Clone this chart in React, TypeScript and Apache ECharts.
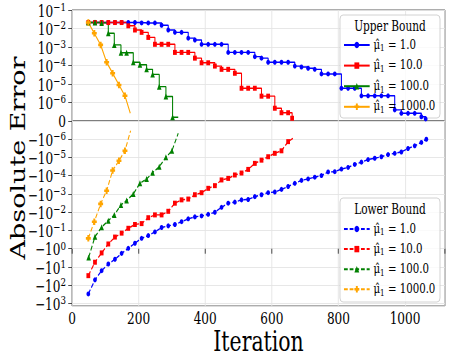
import React, { useEffect, useRef } from "react";
import * as echarts from "echarts";

// ---------------- data ----------------
const muValues = ["1.0", "10.0", "100.0", "1000.0"];

// Upper bound (positive absolute error), [iteration, value]
const upperMu1: [number, number][] = [
  [49, 2.1e-2], [69, 2.1e-2], [89, 2.1e-2], [109, 2.1e-2], [129, 2.1e-2], [149, 2.1e-2],
  [169, 2.1e-2], [189, 2.1e-2], [209, 2.0e-2], [229, 2.0e-2], [249, 2.0e-2], [269, 1.5e-2],
  [289, 8.3e-3], [309, 6.2e-3], [329, 6.2e-3], [349, 3.0e-3], [369, 2.4e-3], [389, 1.4e-3],
  [409, 1.4e-3], [429, 1.4e-3], [449, 1.4e-3], [469, 5.1e-4], [489, 5.1e-4], [509, 5.1e-4],
  [529, 5.1e-4], [549, 3.0e-4], [569, 2.5e-4], [589, 1.5e-4], [609, 1.5e-4], [629, 1.5e-4],
  [649, 1.5e-4], [669, 9.3e-5], [689, 8.3e-5], [709, 7.1e-5], [729, 6.2e-5], [749, 3.5e-5],
  [769, 3.5e-5], [789, 3.5e-5], [809, 5.9e-6], [829, 5.9e-6], [849, 5.9e-6], [869, 2.3e-6],
  [889, 2.3e-6], [909, 2.3e-6], [929, 2.3e-6], [949, 2.3e-6], [969, 4.0e-7], [989, 2.6e-7],
  [1009, 2.6e-7], [1029, 2.6e-7], [1049, 1.7e-7], [1062, 1.3e-7],
];
const upperMu10: [number, number][] = [
  [49, 2.1e-2], [69, 2.1e-2], [89, 2.1e-2], [109, 2.1e-2], [129, 2.1e-2], [149, 2.1e-2],
  [169, 1.4e-2], [189, 8.3e-3], [209, 6.2e-3], [229, 3.3e-3], [249, 1.4e-3], [269, 1.4e-3],
  [289, 1.4e-3], [309, 5.1e-4], [329, 5.1e-4], [349, 5.1e-4], [369, 2.5e-4], [389, 1.4e-4],
  [409, 1.4e-4], [429, 9.3e-5], [449, 6.2e-5], [469, 6.2e-5], [489, 3.8e-5], [509, 5.9e-6],
  [529, 5.9e-6], [549, 5.9e-6], [569, 2.2e-6], [589, 2.2e-6], [609, 4.9e-7], [629, 2.8e-7],
  [649, 2.8e-7], [661, 1.4e-7],
];
const upperMu100: [number, number][] = [
  [49, 2.1e-2], [69, 2.1e-2], [89, 2.0e-2], [109, 5.5e-3], [127, 1.3e-3], [147, 4.9e-4],
  [164, 4.9e-4], [184, 1.5e-4], [204, 1.1e-4], [224, 6.2e-5], [242, 3.3e-5], [262, 7.2e-6],
  [282, 2.1e-6], [302, 1.6e-7],
];
const upperMu100End: [number, number] = [319, 1.6e-7];
const upperMu1000: [number, number][] = [
  [49, 2.1e-2], [67, 5.5e-3], [86, 1.3e-3], [104, 1.5e-4], [122, 3.8e-5], [141, 8.9e-6],
  [159, 2.3e-6],
];
const upperMu1000End: [number, number] = [175, 2.6e-7];

// Lower bound (negative absolute error), [iteration, value]
const lowerMu1: [number, number][] = [
  [49, -300], [69, -51], [89, -16], [109, -6.9], [129, -3.8], [149, -1.8], [169, -0.95],
  [189, -0.5], [209, -0.27], [229, -0.19], [249, -0.12], [269, -6.9e-2], [289, -5.6e-2],
  [309, -4.7e-2], [329, -3.3e-2], [349, -2.3e-2], [369, -1.8e-2], [389, -1.6e-2],
  [409, -1.3e-2], [429, -1.0e-2], [449, -5.4e-3], [469, -3.2e-3], [489, -2.8e-3],
  [509, -2.1e-3], [529, -2.0e-3], [549, -1.4e-3], [569, -1.1e-3], [589, -8.5e-4],
  [609, -7.8e-4], [629, -5.6e-4], [649, -3.9e-4], [669, -2.6e-4], [689, -1.8e-4],
  [709, -1.5e-4], [729, -1.2e-4], [749, -9.8e-5], [769, -6.2e-5], [789, -6.0e-5],
  [809, -4.3e-5], [829, -3.5e-5], [849, -2.4e-5], [869, -1.8e-5], [889, -1.3e-5],
  [909, -1.1e-5], [929, -9.1e-6], [949, -6.9e-6], [969, -5.9e-6], [989, -5.0e-6],
  [1009, -3.2e-6], [1029, -2.3e-6], [1049, -1.5e-6], [1064, -1.0e-6],
];
const lowerMu1End: [number, number] = [1069, -6.6e-7];
const lowerMu10: [number, number][] = [
  [49, -30], [69, -5.5], [89, -1.7], [109, -0.55], [129, -0.23], [149, -0.14], [169, -7.6e-2],
  [189, -4.7e-2], [209, -4.2e-2], [229, -2.0e-2], [249, -1.4e-2], [269, -1.4e-2],
  [289, -8.9e-3], [309, -3.2e-3], [329, -2.1e-3], [349, -1.9e-3], [369, -1.1e-3],
  [389, -8.5e-4], [409, -4.9e-4], [429, -3.5e-4], [449, -1.7e-4], [469, -1.4e-4],
  [489, -9.1e-5], [509, -7.1e-5], [529, -4.5e-5], [549, -2.1e-5], [569, -1.4e-5],
  [589, -9.1e-6], [609, -5.9e-6], [629, -4.3e-6], [649, -1.35e-6],
];
const lowerMu10End: [number, number] = [668, -7.8e-7];
const lowerMu100: [number, number][] = [
  [50, -3.0], [69, -0.22], [89, -6.6e-2], [109, -2.9e-2], [127, -1.4e-2], [147, -4.0e-3],
  [164, -2.3e-3], [184, -1.0e-3], [204, -2.6e-4], [224, -1.5e-4], [242, -6.8e-5],
  [262, -3.2e-5], [282, -9.8e-6], [300, -4.3e-6],
];
const lowerMu100End: [number, number] = [319, -4.7e-7];
const lowerMu1000: [number, number][] = [
  [49, -0.27], [67, -3.3e-2], [86, -3.5e-3], [104, -6.6e-4], [122, -5.2e-5], [141, -1.5e-5],
  [159, -4.3e-6],
];
const lowerMu1000End: [number, number] = [176, -3.4e-7];

const xTicks = [0, 200, 400, 600, 800, 1000];
const upperTickExponents = [-1, -2, -3, -4, -5, -6];
const lowerTickExponents = [-6, -5, -4, -3, -2, -1, 0, 1, 2, 3];
const zeroTickLabel = "0";

// ---------------- layout / style ----------------
const W = 449;
const H = 359;
const SX = 0.756; // the reference is horizontally compressed
const CW = Math.round(W / SX);
const FONT = "DejaVu Serif";
const COLORS = ["#0000ff", "#ff0000", "#008000", "#ffa500"];
const PLUS = "path://M3,0H7V3H10V7H7V10H3V7H0V3H3Z";
const SYMBOLS = ["circle", "rect", "triangle", PLUS];
const SYMBOL_SIZES = [5, 5, 6, 6.5];
const GRID_LEFT = 72 / SX;
const GRID_WIDTH = (445 - 72) / SX;
const LABEL_MARGIN = 8;
const MINUS = "\u2212";

function logData(pts: [number, number][], end?: [number, number]) {
  const out: any[] = pts.map(([x, v]) => [x, Math.log10(Math.abs(v))]);
  if (end) out.push({ value: [end[0], Math.log10(Math.abs(end[1]))], symbol: "none" });
  return out;
}

const upperSets: [[number, number][], [number, number] | undefined][] = [
  [upperMu1, undefined],
  [upperMu10, undefined],
  [upperMu100, upperMu100End],
  [upperMu1000, upperMu1000End],
];
const lowerSets: [[number, number][], [number, number] | undefined][] = [
  [lowerMu1, lowerMu1End],
  [lowerMu10, lowerMu10End],
  [lowerMu100, lowerMu100End],
  [lowerMu1000, lowerMu1000End],
];

const isInt = (v: number) => Math.abs(v - Math.round(v)) < 1e-6;
const expStr = (e: number) => (e < 0 ? MINUS + String(-e) : String(e));

const tickRich = {
  b: { fontFamily: FONT, fontSize: 16, lineHeight: 18, verticalAlign: "bottom", color: "#000" },
  s: { fontFamily: FONT, fontSize: 11.5, lineHeight: 7, verticalAlign: "top", color: "#000" },
};

const legendRich = {
  m: { fontFamily: FONT, fontSize: 13.5, lineHeight: 16, verticalAlign: "top", color: "#000" },
  s: { fontFamily: FONT, fontSize: 9.5, lineHeight: 10, verticalAlign: "bottom", color: "#000" },
  e: { fontFamily: FONT, fontSize: 13.5, lineHeight: 16, verticalAlign: "top", color: "#000" },
};

const legendFormatter = (name: string) => {
  const mu = name.split("|")[1];
  return `{m|\u03bc\u0302}{s|1}{e| = ${mu}}`;
};

function buildOption(): any {
  const series: any[] = [];
  upperSets.forEach(([pts, end], i) => {
    series.push({
      type: "line",
      name: `upper|${muValues[i]}`,
      xAxisIndex: 0,
      yAxisIndex: 0,
      data: logData(pts, end),
      step: i < 3 ? "end" : false,
      symbol: SYMBOLS[i],
      symbolSize: SYMBOL_SIZES[i],
      showSymbol: true,
      lineStyle: { color: COLORS[i], width: 1.4 },
      itemStyle: { color: COLORS[i] },
      emphasis: { disabled: true },
    });
  });
  lowerSets.forEach(([pts, end], i) => {
    series.push({
      type: "line",
      name: `lower|${muValues[i]}`,
      xAxisIndex: 1,
      yAxisIndex: 1,
      data: logData(pts, end),
      symbol: SYMBOLS[i],
      symbolSize: SYMBOL_SIZES[i],
      showSymbol: true,
      lineStyle: { color: COLORS[i], width: 1.4, type: [5, 2.5] },
      itemStyle: { color: COLORS[i] },
      emphasis: { disabled: true },
    });
  });

  const splitLine = { show: true, lineStyle: { color: "#e4e4e4", width: 1 } };
  const tickStyle = { show: true, length: 5, lineStyle: { color: "#333", width: 1 } };

  return {
    animation: false,
    backgroundColor: "#fff",
    grid: [
      { left: GRID_LEFT, top: 10, width: GRID_WIDTH, height: 111, show: true, borderColor: "#444", borderWidth: 1, backgroundColor: "transparent" },
      { left: GRID_LEFT, top: 121, width: GRID_WIDTH, height: 185, show: true, borderColor: "#444", borderWidth: 1, backgroundColor: "transparent" },
    ],
    xAxis: [
      {
        type: "value", gridIndex: 0, min: 0, max: 1120, interval: 200,
        axisLine: { show: false }, axisTick: { show: false }, axisLabel: { show: false },
        splitLine,
      },
      {
        type: "value", gridIndex: 1, min: 0, max: 1120, interval: 200,
        axisLine: { show: false }, axisTick: tickStyle, splitLine,
        axisLabel: {
          show: true, margin: 4, fontFamily: FONT, fontSize: 16, color: "#000",
          showMinLabel: true,
          formatter: (v: number) => (xTicks.includes(v) ? String(v) : ""),
        },
      },
    ],
    yAxis: [
      {
        type: "value", gridIndex: 0, min: -7, max: -1, interval: 1,
        axisLine: { show: false }, axisTick: tickStyle, splitLine,
        axisLabel: {
          show: true, margin: LABEL_MARGIN, rich: tickRich, showMaxLabel: true,
          formatter: (v: number) => {
            if (!isInt(v)) return "";
            const e = Math.round(v);
            return upperTickExponents.includes(e) ? `{b|10}{s|${expStr(e)}}` : "";
          },
        },
      },
      {
        type: "value", gridIndex: 1, min: -7, max: 3.14, interval: 1, inverse: true,
        axisLine: { show: false }, axisTick: tickStyle, splitLine,
        axisLabel: {
          show: true, margin: LABEL_MARGIN, rich: tickRich, showMinLabel: false, showMaxLabel: false,
          formatter: (v: number) => {
            if (!isInt(v)) return "";
            const e = Math.round(v);
            return lowerTickExponents.includes(e) ? `{b|${MINUS}10}{s|${expStr(e)}}` : "";
          },
        },
      },
    ],
    legend: [
      {
        orient: "vertical", left: 454, top: 37, itemWidth: 34, itemHeight: 8, itemGap: 4.6,
        padding: 0, selectedMode: false,
        data: muValues.map((m) => `upper|${m}`),
        formatter: legendFormatter,
        textStyle: { fontFamily: FONT, fontSize: 13.5, color: "#000", rich: legendRich },
      },
      {
        orient: "vertical", left: 454, top: 221, itemWidth: 34, itemHeight: 8, itemGap: 4.1,
        padding: 0, selectedMode: false,
        data: muValues.map((m) => `lower|${m}`),
        formatter: legendFormatter,
        textStyle: { fontFamily: FONT, fontSize: 13.5, color: "#000", rich: legendRich },
      },
    ],
    graphic: {
      elements: [
        {
          type: "rect", z: 3, silent: true,
          shape: { x: 340 / SX, y: 15, width: 100 / SX, height: 103, r: 4 },
          style: { fill: "rgba(255,255,255,0.8)", stroke: "#cccccc", lineWidth: 1 },
        },
        {
          type: "rect", z: 3, silent: true,
          shape: { x: 340 / SX, y: 198, width: 100 / SX, height: 104, r: 4 },
          style: { fill: "rgba(255,255,255,0.8)", stroke: "#cccccc", lineWidth: 1 },
        },
        {
          type: "text", z: 5, x: 390 / SX, y: 26,
          style: { text: "Upper Bound", fontFamily: FONT, fontSize: 14, fill: "#000", align: "center", verticalAlign: "middle" },
        },
        {
          type: "text", z: 5, x: 390 / SX, y: 208.5,
          style: { text: "Lower Bound", fontFamily: FONT, fontSize: 14, fill: "#000", align: "center", verticalAlign: "middle" },
        },
        {
          // the shared "0" tick label where the two panels meet
          type: "text", z: 50, x: 77, y: 113,
          style: { text: zeroTickLabel, fontFamily: FONT, fontSize: 16, fill: "#000", align: "left", verticalAlign: "top" },
        },
        {
          type: "text", z: 5, x: 24, y: 158, rotation: Math.PI / 2,
          style: { text: "Absolute Error", fontFamily: FONT, fontSize: 27, fill: "#000", align: "center", verticalAlign: "middle" },
        },
        {
          type: "text", z: 5, x: 258.5 / SX, y: 342,
          style: { text: "Iteration", fontFamily: FONT, fontSize: 27, fill: "#000", align: "center", verticalAlign: "middle" },
        },
      ],
    },
    series,
  };
}

export default function App() {
  const ref = useRef<HTMLDivElement>(null);
  useEffect(() => {
    document.body.style.margin = "0";
    const chart = echarts.init(ref.current as HTMLDivElement, null, { renderer: "svg", width: CW, height: H });
    chart.setOption(buildOption());
    return () => chart.dispose();
  }, []);
  return (
    <div style={{ width: W, height: H, overflow: "hidden", position: "relative" }}>
      <div
        ref={ref}
        style={{ width: CW, height: H, transform: `scaleX(${SX})`, transformOrigin: "0 0" }}
      />
    </div>
  );
}
